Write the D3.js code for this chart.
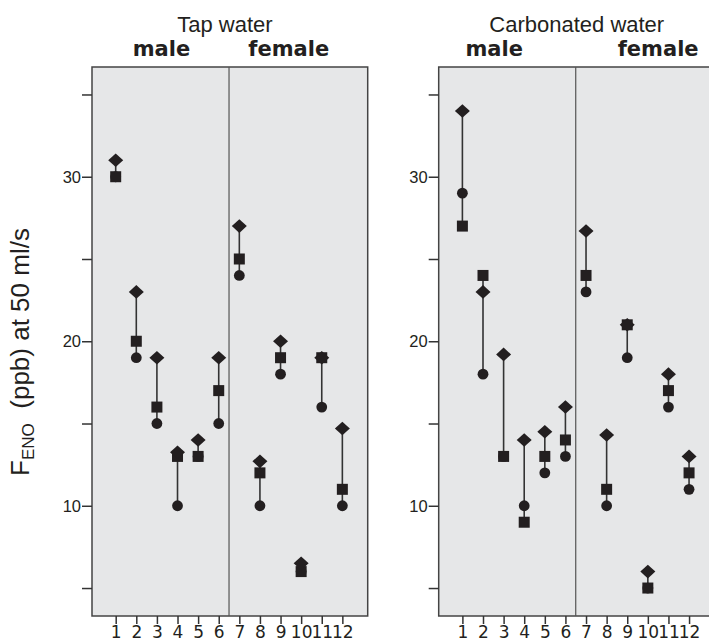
<!DOCTYPE html>
<html>
<head>
<meta charset="utf-8">
<script src="https://cdn.jsdelivr.net/npm/d3@7"></script>
<style>
  body { margin: 0; background: #fff; }
  svg { display: block; font-family: "Liberation Sans", Arial, sans-serif; }
</style>
</head>
<body>
<svg id="chart" width="709" height="641"></svg>
<script>
// subjects 1-6 male, 7-12 female
const subjects = [1, 2, 3, 4, 5, 6, 7, 8, 9, 10, 11, 12];

const tapDiamond = [31, 23, 19, 13.25, 14, 19, 27, 12.7, 20, 6.5, 19, 14.7];
const tapSquare  = [30, 20, 16, 13, 13, 17, 25, 12, 19, 6, 19, 11];
const tapCircle  = [30, 19, 15, 10, 13, 15, 24, 10, 18, 6, 16, 10];

const carbDiamond = [34, 23, 19.2, 14, 14.5, 16, 26.7, 14.3, 21, 6, 18, 13];
const carbSquare  = [27, 24, 13, 9, 13, 14, 24, 11, 21, 5, 17, 12];
const carbCircle  = [29, 18, 13, 10, 12, 13, 23, 10, 19, 5, 16, 11];

const yTicks = [5, 10, 15, 20, 25, 30, 35];
const yLabels = [10, 20, 30];

const panels = [
    { title: "Tap water", left: 92, diamond: tapDiamond, square: tapSquare, circle: tapCircle,
      titleAt: 6.3, maleAt: 3.22, femaleAt: 9.4 },
    { title: "Carbonated water", left: 438.7, diamond: carbDiamond, square: carbSquare, circle: carbCircle,
      titleAt: 6.55, maleAt: 2.54, femaleAt: 10.5 }
];

const svg = d3.select("#chart");
const panelW = 275.7, plotTop = 67, plotBottom = 616;
const ink = "#231f20";

let y = d3.scaleLinear().domain([3.3, 36.67]).range([plotBottom, plotTop]);

panels.forEach(p => {
    let x = d3.scaleLinear().domain([-0.15, 13.23]).range([p.left, p.left + panelW]);
    let g = svg.append("g");

    // panel background + frame
    g.append("rect")
        .attr("x", p.left).attr("y", plotTop)
        .attr("width", panelW).attr("height", plotBottom - plotTop)
        .attr("fill", "#e6e7e8")
        .attr("stroke", "#444").attr("stroke-width", 1.5);

    // male / female divider
    g.append("line")
        .attr("x1", x(6.5)).attr("x2", x(6.5))
        .attr("y1", plotTop).attr("y2", plotBottom)
        .attr("stroke", "#555").attr("stroke-width", 1.2);

    // axes
    let yAxis = d3.axisLeft(y).tickValues(yTicks).tickSize(10).tickPadding(1)
        .tickFormat(d => yLabels.includes(d) ? d : "");
    g.append("g").attr("transform", `translate(${p.left},0)`).call(yAxis)
        .call(a => a.select(".domain").remove())
        .call(a => a.selectAll("line").attr("stroke", "#333").attr("stroke-width", 1.5))
        .call(a => a.selectAll("text").attr("font-size", 16.5).attr("fill", "#231f20")
            .attr("font-family", "Liberation Sans, Arial, sans-serif"));

    let xAxis = d3.axisBottom(x).tickValues(subjects).tickSize(8).tickPadding(2);
    g.append("g").attr("transform", `translate(0,${plotBottom})`).call(xAxis)
        .call(a => a.select(".domain").remove())
        .call(a => a.selectAll("line").attr("stroke", "#333").attr("stroke-width", 1.5))
        .call(a => a.selectAll("text").attr("font-size", 17).attr("fill", "#231f20")
            .attr("font-family", "DejaVu Sans, sans-serif").attr("dy", "0.72em"));

    // titles
    g.append("text").attr("x", x(p.titleAt)).attr("y", 32)
        .attr("text-anchor", "middle").attr("font-size", 22).attr("fill", ink)
        .text(p.title);
    [["male", p.maleAt], ["female", p.femaleAt]].forEach(([t, at]) => {
        g.append("text").attr("x", x(at)).attr("y", 56)
            .attr("text-anchor", "middle").attr("font-size", 21).attr("font-weight", "bold")
            .attr("font-family", "DejaVu Sans, sans-serif").attr("fill", ink)
            .text(t);
    });

    // range lines per subject
    g.append("g").selectAll("line")
        .data(subjects)
        .join("line")
        .attr("x1", d => x(d)).attr("x2", d => x(d))
        .attr("y1", (d, i) => y(Math.min(p.diamond[i], p.square[i], p.circle[i])))
        .attr("y2", (d, i) => y(Math.max(p.diamond[i], p.square[i], p.circle[i])))
        .attr("stroke", "#333").attr("stroke-width", 1.6);

    g.append("g").selectAll("circle")
        .data(subjects)
        .join("circle")
        .attr("cx", d => x(d)).attr("cy", (d, i) => y(p.circle[i]))
        .attr("r", 5.4).attr("fill", ink);

    g.append("g").selectAll("rect")
        .data(subjects)
        .join("rect")
        .attr("x", d => x(d) - 5.5).attr("y", (d, i) => y(p.square[i]) - 5.5)
        .attr("width", 11).attr("height", 11).attr("fill", ink);

    g.append("g").selectAll("path")
        .data(subjects)
        .join("path")
        .attr("d", (d, i) => {
            let cx = x(d), cy = y(p.diamond[i]);
            return `M${cx},${cy - 6.8}L${cx + 7.5},${cy}L${cx},${cy + 6.8}L${cx - 7.5},${cy}Z`;
        })
        .attr("fill", ink);
});

// y axis title
const yTitle = svg.append("text")
    .attr("transform", "translate(29,352) rotate(-90)")
    .attr("text-anchor", "middle").attr("font-size", 26).attr("fill", ink);
yTitle.append("tspan").text("F");
yTitle.append("tspan").attr("font-size", 17).attr("dy", 5).text("ENO");
yTitle.append("tspan").attr("dy", -5).text("\u00a0 (ppb) at 50 ml/s");
</script>
</body>
</html>
